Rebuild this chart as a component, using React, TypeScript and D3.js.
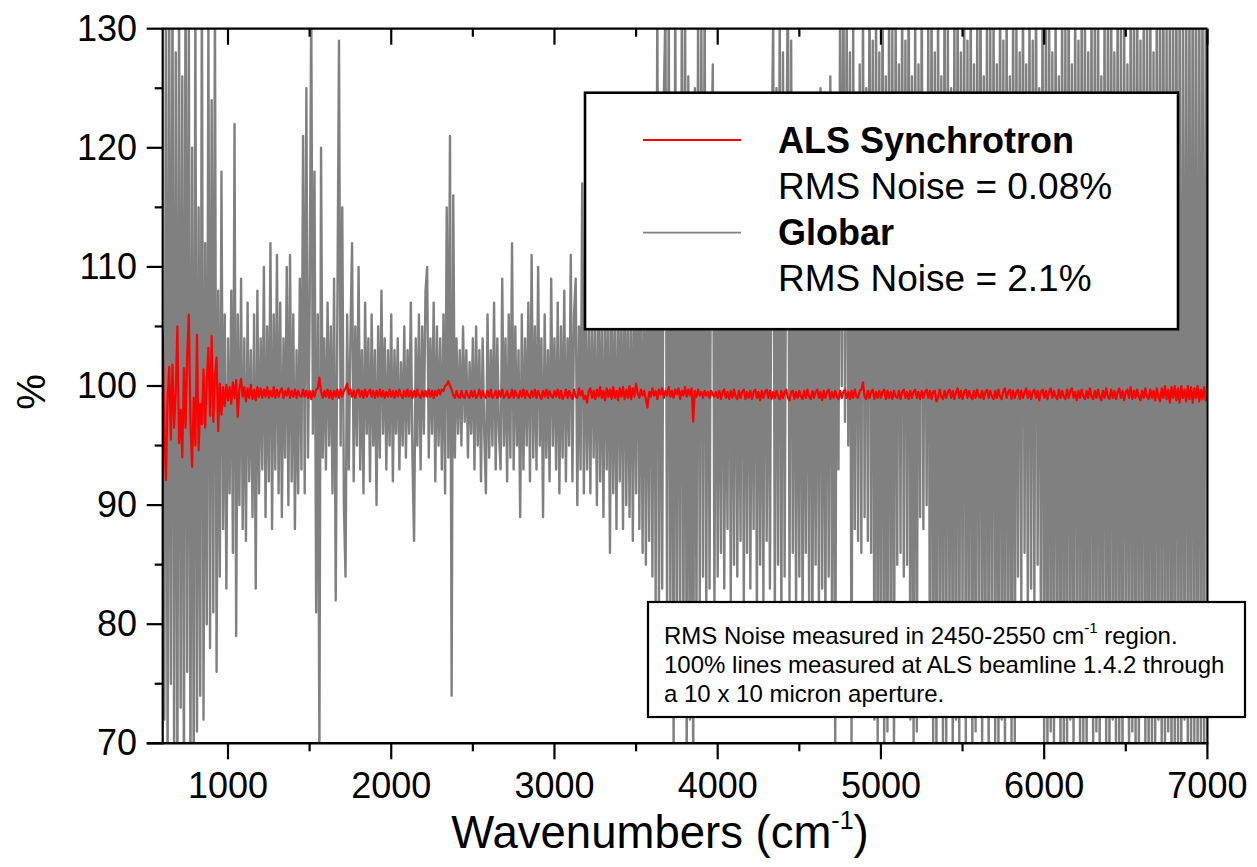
import React from 'react';
import * as d3 from 'd3';

// ---------- data ----------
const WN_START = 600;
const WN_END = 7000;

// Globar 100% line, % transmittance, one value every 10 cm-1 from 600 to 7000
const globarPct: number[] = [
  103, 72, 135, 66, 132, 75, 136, 68, 128, 66, // 600
  134, 73, 126, 65, 138, 76, 131, 67, 120, 66, // 700
  133, 71, 115, 74, 135, 72, 112, 80, 131, 78, // 800
  124, 81, 133, 76, 108, 84, 118, 88, 106, 83, // 900
  104, 91, 108, 86, 122, 79, 106, 90, 109, 88, // 1000
  104, 87, 107, 92, 103, 89, 106, 83, 108, 91, // 1100
  104, 93, 110, 89, 105, 92, 112, 88, 106, 93, // 1200
  111, 91, 107, 89, 104, 94, 110, 90, 111, 92, // 1300
  106, 88, 103, 91, 109, 93, 121, 91, 125, 94, // 1400
  106, 132, 96, 118, 81, 106, 69, 120, 94, 104, // 1500
  93, 107, 95, 105, 91, 109, 82, 106, 129, 95, // 1600
  115, 90, 84, 106, 93, 104, 112, 92, 105, 95, // 1700
  110, 93, 103, 91, 107, 96, 104, 92, 106, 95, // 1800
  103, 90, 105, 94, 108, 96, 104, 93, 103, 95, // 1900
  106, 92, 103, 96, 104, 93, 102, 95, 105, 94, // 2000
  103, 96, 107, 94, 87, 104, 95, 106, 93, 105, // 2100
  96, 108, 110, 94, 104, 96, 107, 92, 105, 95, // 2200
  104, 93, 106, 91, 115, 94, 121, 74, 116, 94, // 2300
  104, 96, 103, 95, 105, 97, 103, 94, 102, 96, // 2400
  104, 93, 105, 95, 103, 92, 104, 96, 91, 106, // 2500
  94, 103, 95, 107, 93, 104, 96, 93, 109, 95, // 2600
  104, 92, 106, 94, 112, 93, 105, 95, 103, 89, // 2700
  106, 93, 104, 95, 107, 92, 111, 94, 105, 93, // 2800
  110, 95, 104, 89, 106, 94, 103, 92, 109, 95, // 2900
  104, 93, 107, 91, 105, 94, 108, 92, 104, 95, // 3000
  111, 92, 106, 109, 90, 105, 93, 117, 91, 107, // 3100
  93, 106, 91, 108, 94, 105, 90, 109, 92, 106, // 3200
  89, 108, 93, 107, 86, 110, 91, 106, 88, 109, // 3300
  92, 107, 88, 111, 90, 106, 89, 110, 87, 108, // 3400
  91, 113, 88, 108, 86, 112, 85, 110, 87, 115, // 3500
  84, 118, 82, 133, 80, 120, 83, 124, 132, 79, // 3600
  134, 81, 122, 69, 135, 78, 124, 80, 131, 76, // 3700
  136, 68, 126, 72, 120, 67, 125, 79, 133, 82, // 3800
  131, 84, 134, 80, 122, 83, 118, 127, 81, 119, // 3900
  84, 112, 86, 118, 83, 109, 88, 121, 82, 114, // 4000
  85, 119, 84, 110, 87, 122, 81, 115, 86, 117, // 4100
  83, 111, 88, 120, 80, 116, 85, 113, 82, 121, // 4200
  87, 114, 83, 118, 131, 80, 125, 85, 133, 79, // 4300
  128, 84, 117, 135, 82, 129, 86, 119, 81, 115, // 4400
  84, 121, 79, 112, 86, 118, 82, 123, 78, 114, // 4500
  85, 120, 80, 125, 83, 116, 79, 122, 84, 126, // 4600
  80, 117, 69, 121, 93, 133, 100, 135, 97, 132, // 4700
  95, 128, 70, 131, 88, 124, 87, 127, 86, 133, // 4800
  89, 125, 87, 136, 86, 129, 72, 134, 70, 128, // 4900
  74, 137, 69, 126, 71, 135, 76, 130, 68, 133, // 5000
  85, 127, 86, 134, 84, 129, 85, 138, 72, 126, // 5100
  69, 133, 71, 127, 89, 135, 88, 124, 90, 131, // 5200
  73, 136, 70, 128, 68, 134, 75, 126, 70, 139, // 5300
  69, 130, 77, 125, 68, 133, 72, 137, 70, 128, // 5400
  80, 134, 69, 129, 74, 136, 68, 127, 71, 132, // 5500
  76, 138, 69, 126, 73, 135, 68, 130, 78, 133, // 5600
  70, 127, 69, 137, 72, 129, 68, 134, 75, 126, // 5700
  70, 136, 69, 131, 84, 128, 82, 135, 86, 127, // 5800
  80, 133, 83, 129, 81, 136, 85, 125, 79, 134, // 5900
  70, 130, 68, 137, 71, 128, 69, 133, 74, 126, // 6000
  68, 135, 70, 131, 68, 138, 72, 127, 69, 134, // 6100
  75, 129, 68, 136, 70, 132, 67, 128, 73, 135, // 6200
  69, 130, 71, 137, 68, 126, 74, 134, 69, 131, // 6300
  68, 139, 72, 128, 69, 135, 70, 130, 67, 133, // 6400
  75, 127, 68, 136, 71, 132, 69, 138, 68, 129, // 6500
  73, 134, 69, 131, 67, 137, 70, 128, 68, 135, // 6600
  72, 133, 69, 139, 68, 130, 71, 136, 67, 132, // 6700
  70, 138, 69, 134, 68, 131, 72, 137, 69, 135, // 6800
  67, 140, 70, 133, 68, 138, 69, 136, 67, 134, // 6900
  99, // 7000
];

// ALS synchrotron 100% line, % transmittance, one value every 10 cm-1 from 600 to 7000
const alsPct: number[] = [
  104.7, 96, 92.1, 99, 101.6, 95.5, 101.8, 96.5, 99.5, 105, // 600
  95.2, 98, 94, 101.5, 96.5, 102.5, 106, 97, 93.2, 99, // 700
  95, 104.3, 94.6, 98.5, 96.8, 101.4, 96.5, 100.4, 103.2, 97.5, // 800
  104.2, 97, 100.8, 102.4, 96.2, 100.2, 97.6, 99.9, 98.3, 100.1, // 900
  98.8, 99.9, 98.5, 100.3, 99.0, 100.5, 97.4, 99.8, 100.6, 99.1, // 1000
  99.9, 98.7, 99.8, 99.0, 100.1, 98.9, 99.7, 98.8, 99.9, 99.1, // 1100
  99.8, 99.0, 99.7, 99.1, 99.9, 99.0, 99.6, 99.1, 99.9, 99.0, // 1200
  99.7, 99.1, 99.6, 99.8, 99.0, 99.6, 99.2, 99.8, 99.0, 99.6, // 1300
  99.1, 99.7, 99.0, 99.6, 99.2, 99.1, 99.7, 99.1, 99.6, 99.0, // 1400
  99.6, 98.9, 99.6, 99.1, 99.7, 99.8, 100.7, 99.5, 99.0, 99.6, // 1500
  99.1, 99.7, 99.0, 99.6, 98.9, 99.6, 99.1, 99.7, 99.0, 99.7, // 1600
  99.1, 99.6, 99.8, 100.2, 99.3, 99.7, 99.1, 99.6, 99.0, 99.6, // 1700
  99.7, 99.1, 99.6, 99.0, 99.7, 99.1, 99.5, 99.7, 99.1, 99.6, // 1800
  99.0, 99.6, 99.1, 99.7, 99.1, 99.6, 99.0, 99.5, 99.1, 99.7, // 1900
  99.1, 99.6, 99.0, 99.6, 99.1, 99.7, 99.2, 99.0, 99.6, 99.1, // 2000
  99.7, 99.1, 99.6, 99.0, 99.6, 99.1, 99.7, 99.2, 99.0, 99.6, // 2100
  99.1, 99.6, 99.1, 99.7, 99.1, 99.6, 99.0, 99.6, 99.2, 99.7, // 2200
  99.3, 99.7, 99.6, 100.0, 100.1, 100.4, 100.0, 99.7, 99.2, 99.0, // 2300
  99.6, 99.1, 99.0, 99.6, 99.1, 99.0, 99.6, 99.2, 99.0, 99.6, // 2400
  99.1, 99.6, 99.0, 99.2, 99.7, 99.0, 99.6, 99.1, 99.0, 99.6, // 2500
  99.1, 99.7, 99.0, 99.2, 99.6, 99.0, 99.6, 99.1, 99.7, 99.0, // 2600
  99.2, 99.6, 99.0, 99.1, 99.7, 99.0, 99.6, 99.2, 99.0, 99.6, // 2700
  99.1, 99.7, 99.0, 99.6, 99.2, 99.0, 99.6, 99.1, 99.7, 99.0, // 2800
  99.6, 99.2, 98.9, 99.6, 99.1, 99.7, 99.0, 99.6, 99.2, 99.0, // 2900
  99.6, 99.1, 99.7, 99.0, 99.6, 98.9, 99.2, 99.7, 99.0, 99.6, // 3000
  99.2, 98.9, 99.7, 99.1, 99.0, 99.8, 99.2, 99.6, 98.9, 99.2, // 3100
  98.6, 99.6, 99.8, 99.0, 99.6, 98.9, 99.7, 99.1, 99.9, 99.0, // 3200
  99.6, 98.8, 99.8, 99.1, 99.7, 98.9, 99.9, 99.0, 99.6, 98.8, // 3300
  99.8, 99.1, 99.9, 98.9, 99.7, 99.0, 100.0, 98.9, 99.8, 99.1, // 3400
  100.2, 99.4, 99.0, 99.7, 99.2, 99.6, 98.9, 98.2, 99.5, 99.1, // 3500
  99.8, 99.2, 99.6, 98.9, 99.7, 99.3, 99.8, 99.0, 99.6, 99.2, // 3600
  99.9, 99.1, 99.6, 99.0, 99.7, 99.3, 99.8, 98.9, 99.6, 99.2, // 3700
  99.9, 99.1, 99.7, 99.2, 99.8, 97.0, 99.6, 99.1, 99.7, 99.2, // 3800
  99.5, 99.0, 99.6, 99.2, 99.5, 99.0, 99.6, 99.3, 99.1, 99.5, // 3900
  99.0, 99.6, 98.9, 99.5, 99.7, 99.0, 99.5, 98.9, 99.6, 99.0, // 4000
  99.7, 99.1, 98.9, 99.6, 99.0, 99.5, 99.7, 98.9, 99.5, 99.0, // 4100
  99.6, 98.9, 99.5, 99.7, 99.0, 99.5, 98.8, 99.6, 99.0, 99.5, // 4200
  99.7, 99.0, 99.6, 98.9, 99.5, 99.0, 99.6, 99.1, 98.9, 99.6, // 4300
  99.0, 99.5, 99.7, 99.0, 98.8, 99.5, 99.6, 98.9, 99.5, 99.0, // 4400
  99.6, 99.1, 98.9, 99.6, 99.0, 99.7, 99.1, 98.9, 99.6, 99.0, // 4500
  99.5, 99.7, 99.0, 99.5, 98.8, 99.6, 99.0, 99.5, 99.7, 98.9, // 4600
  99.5, 99.0, 99.6, 99.1, 98.9, 99.6, 99.0, 99.5, 99.7, 99.0, // 4700
  99.5, 98.9, 99.6, 99.0, 99.7, 99.1, 99.0, 99.6, 99.7, 100.3, // 4800
  99.1, 98.9, 99.6, 99.0, 99.5, 99.7, 98.9, 99.5, 99.0, 99.6, // 4900
  99.0, 99.5, 99.7, 98.9, 99.6, 99.0, 99.5, 98.9, 99.6, 99.1, // 5000
  99.0, 99.6, 98.9, 99.5, 99.7, 99.0, 99.5, 98.9, 99.6, 99.0, // 5100
  99.5, 99.7, 99.0, 99.5, 98.9, 99.6, 99.0, 99.5, 99.7, 99.0, // 5200
  99.6, 98.9, 99.5, 99.6, 98.7, 99.0, 99.7, 99.1, 98.9, 99.6, // 5300
  99.0, 99.5, 99.7, 99.0, 99.6, 98.9, 99.5, 99.8, 99.0, 99.6, // 5400
  98.9, 99.5, 99.7, 99.0, 99.6, 99.1, 98.9, 99.6, 99.0, 99.7, // 5500
  99.1, 99.0, 99.6, 98.9, 99.5, 99.7, 99.0, 99.6, 99.1, 98.9, // 5600
  99.6, 99.0, 99.7, 99.1, 98.9, 99.6, 99.8, 99.0, 99.5, 99.7, // 5700
  98.9, 99.6, 99.0, 99.5, 99.7, 98.9, 99.6, 99.0, 99.5, 99.8, // 5800
  99.0, 99.6, 98.9, 99.5, 99.7, 99.0, 99.6, 98.8, 99.5, 99.7, // 5900
  99.0, 99.6, 98.9, 99.5, 99.8, 99.0, 99.6, 99.1, 98.9, 99.7, // 6000
  99.0, 99.6, 99.1, 98.9, 99.7, 99.0, 99.6, 99.8, 99.0, 99.5, // 6100
  98.8, 99.6, 99.0, 99.7, 99.1, 98.9, 99.6, 99.0, 99.8, 99.1, // 6200
  98.9, 99.6, 99.0, 99.7, 99.1, 98.8, 99.6, 99.0, 99.8, 99.1, // 6300
  98.9, 99.7, 99.0, 99.6, 98.9, 99.5, 99.8, 99.0, 99.6, 98.8, // 6400
  99.5, 99.7, 99.0, 99.9, 98.9, 99.6, 99.0, 99.7, 99.1, 98.8, // 6500
  99.6, 99.0, 99.8, 99.1, 98.9, 99.7, 99.0, 99.6, 98.8, 99.8, // 6600
  99.1, 98.7, 99.8, 99.0, 100.0, 98.9, 99.7, 98.6, 99.9, 99.0, // 6700
  100.0, 98.8, 99.8, 98.6, 100.0, 99.0, 99.7, 98.7, 100.0, 98.9, // 6800
  99.9, 98.6, 99.8, 99.0, 100.0, 98.7, 99.7, 98.9, 99.9, 98.8, // 6900
  99.5, // 7000
];

const xMajorTicks = [1000, 2000, 3000, 4000, 5000, 6000, 7000];
const xMinorTicks = [1500, 2500, 3500, 4500, 5500, 6500];
const yMajorTicks = [70, 80, 90, 100, 110, 120, 130];
const yMinorTicks = [75, 85, 95, 105, 115, 125];

const seriesNames = ['ALS Synchrotron', 'Globar'];
const seriesNotes = ['RMS Noise = 0.08%', 'RMS Noise = 2.1%'];
const seriesColors = ['#ff0000', '#808080'];

const noteLine1a = 'RMS Noise measured in 2450-2550 cm';
const noteLine1b = ' region.';
const noteLine2 = '100% lines measured at ALS beamline 1.4.2 through';
const noteLine3 = 'a 10 x 10 micron aperture.';

const FONT = "'Liberation Sans', Arimo, Arial, sans-serif";
const txt = { fontFamily: FONT } as React.CSSProperties;

export default function App() {
  const W = 1257;
  const H = 867;
  const left = 162.7, right = 1207.4, top = 28.7, bottom = 743.3;

  const x = d3.scaleLinear().domain([WN_START, WN_END]).range([left, right]);
  const y = d3.scaleLinear().domain([70, 130]).range([bottom, top]);

  const wnOf = (n: number) => (i: number) => WN_START + (i * (WN_END - WN_START)) / (n - 1);
  const gWn = wnOf(globarPct.length);
  const aWn = wnOf(alsPct.length);

  const globarPath = d3.line<number>().x((_, i) => x(gWn(i))).y((d) => y(d))(globarPct) || '';
  const alsPath = d3.line<number>().x((_, i) => x(aWn(i))).y((d) => y(d))(alsPct) || '';

  const axisW = 2.2;

  return (
    <svg width={W} height={H} style={{ position: 'absolute', left: 0, top: 0, background: '#fff', fontFamily: FONT }}>
      <defs>
        <clipPath id="plotClip">
          <rect x={left} y={top} width={right - left} height={bottom - top} />
        </clipPath>
      </defs>
      <rect x={0} y={0} width={W} height={H} fill="#fff" />

      <g clipPath="url(#plotClip)">
        <path d={globarPath} fill="none" stroke={seriesColors[1]} strokeWidth={2.4} strokeLinejoin="round" />
        <path d={alsPath} fill="none" stroke={seriesColors[0]} strokeWidth={2.2} strokeLinejoin="round" />
      </g>

      {/* frame */}
      <line x1={left} x2={right} y1={top} y2={top} stroke="#000" strokeWidth={axisW} />
      <line x1={right} x2={right} y1={top} y2={bottom} stroke="#000" strokeWidth={axisW} />
      <line x1={left} x2={left} y1={top - 1} y2={bottom + 1} stroke="#000" strokeWidth={axisW} />
      <line x1={left - 16} x2={right + 1} y1={bottom} y2={bottom} stroke="#000" strokeWidth={2.6} />

      {/* x ticks */}
      {xMajorTicks.map((t) => (
        <g key={'xm' + t}>
          <line x1={x(t)} x2={x(t)} y1={bottom} y2={bottom + 16} stroke="#000" strokeWidth={axisW} />
          <line x1={x(t)} x2={x(t)} y1={top} y2={top + 16} stroke="#000" strokeWidth={axisW} />
          <text x={x(t)} y={798} fontSize={36} textAnchor="middle" fill="#000" style={txt}>{t}</text>
        </g>
      ))}
      {xMinorTicks.map((t) => (
        <g key={'xn' + t}>
          <line x1={x(t)} x2={x(t)} y1={bottom} y2={bottom + 8} stroke="#000" strokeWidth={axisW} />
          <line x1={x(t)} x2={x(t)} y1={top} y2={top + 8} stroke="#000" strokeWidth={axisW} />
        </g>
      ))}

      {/* y ticks */}
      {yMajorTicks.map((t) => (
        <g key={'ym' + t}>
          <line x1={left - 16} x2={left} y1={y(t)} y2={y(t)} stroke="#000" strokeWidth={axisW} />
          <text x={137} y={y(t) + 12} fontSize={36} textAnchor="end" fill="#000" style={txt}>{t}</text>
        </g>
      ))}
      {yMinorTicks.map((t) => (
        <line key={'yn' + t} x1={left - 8} x2={left} y1={y(t)} y2={y(t)} stroke="#000" strokeWidth={axisW} />
      ))}

      {/* axis titles */}
      <text transform="translate(45,392) rotate(-90)" fontSize={40} textAnchor="middle" fill="#000" style={txt}>%</text>
      <text x={660} y={848} fontSize={45.5} textAnchor="middle" fill="#000" style={txt}>
        Wavenumbers (cm<tspan fontSize={25} dy={-19}>-1</tspan><tspan dy={19}>)</tspan>
      </text>

      {/* legend */}
      <rect x={585} y={92.7} width={593} height={236.5} fill="#fff" stroke="#000" strokeWidth={2.6} />
      {seriesNames.map((name, i) => {
        const ly = [140, 232.7][i];
        const by = [153, 245][i];
        return (
          <g key={name}>
            <line x1={643} x2={741} y1={ly} y2={ly} stroke={seriesColors[i]} strokeWidth={1.8} />
            <text x={778} y={by} fontSize={36} fontWeight="bold" fill="#000" style={txt}>{name}</text>
            <text x={778} y={by + 46} fontSize={37} fill="#000" style={txt}>{seriesNotes[i]}</text>
          </g>
        );
      })}

      {/* note box */}
      <rect x={648} y={602} width={597} height={115} fill="#fff" stroke="#000" strokeWidth={2.2} />
      <text x={664} y={644} fontSize={24} fill="#000" style={txt}>
        {noteLine1a}<tspan fontSize={15} dy={-11}>-1</tspan><tspan dy={11}>{noteLine1b}</tspan>
      </text>
      <text x={664} y={673} fontSize={24} fill="#000" style={txt}>{noteLine2}</text>
      <text x={664} y={702} fontSize={24} fill="#000" style={txt}>{noteLine3}</text>
    </svg>
  );
}
